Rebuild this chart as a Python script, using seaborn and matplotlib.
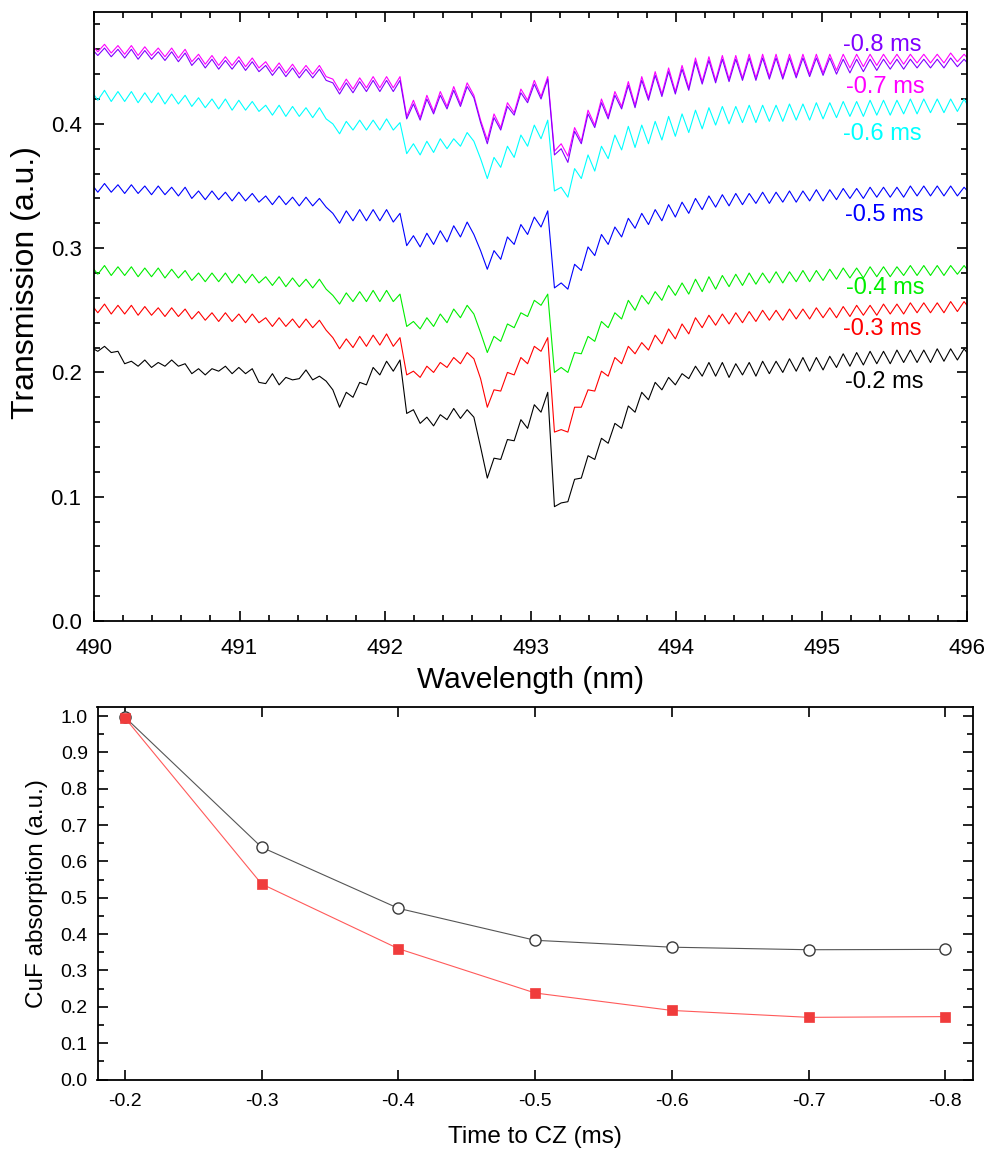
import numpy as np
import pandas as pd
import matplotlib
matplotlib.use("Agg")
import matplotlib.pyplot as plt
from matplotlib.ticker import MultipleLocator
import seaborn as sns

# ---------------- data ----------------
# wavelength sampling grid (nm): fringe peaks / troughs alternate
wavelength = np.round(489.98 + 0.046154 * np.arange(132), 4)

t_m08 = [.461, .455, .461, .454, .460, .453, .460, .452, .459, .452, .458, .451, .458, .450, .457, .447, .453, .445,
         .452, .444, .451, .444, .451, .443, .450, .442, .447, .439, .446, .438, .445, .437, .444, .437, .444, .435,
         .433, .424, .433, .425, .434, .426, .435, .426, .435, .426, .435,
         .404, .416, .403, .420, .408, .423, .412, .427, .414, .430, .421,
         .401, .384, .405, .395, .414, .407, .425, .417, .432, .420, .436,
         .375, .380, .369,
         .394, .384, .408, .397, .417, .404, .423, .412, .431, .413, .435, .419, .439, .422, .442, .424, .444, .427, .450, .432,
         .451, .433, .452, .434, .452, .435, .453, .435, .453, .436, .453, .436, .453, .437, .453, .438, .453, .439, .453, .440,
         .452, .441, .452, .442, .452, .443, .452, .444, .452, .444, .452, .445, .452, .445, .452, .445, .453, .446, .452, .446]

t_m07 = [.464, .458, .464, .457, .463, .456, .463, .455, .462, .455, .461, .454, .461, .453, .460, .450, .456, .448,
         .455, .447, .454, .447, .454, .446, .453, .445, .450, .442, .449, .441, .448, .440, .447, .440, .447, .438,
         .436, .427, .436, .428, .437, .429, .438, .429, .438, .429, .438,
         .406, .419, .405, .423, .410, .426, .414, .430, .416, .433, .423,
         .403, .387, .408, .397, .417, .409, .428, .419, .435, .422, .438,
         .378, .384, .374,
         .397, .386, .411, .399, .420, .406, .426, .414, .434, .415, .438, .421, .442, .424, .445, .426, .447, .429, .453, .434,
         .454, .435, .455, .436, .455, .437, .456, .437, .456, .438, .456, .438, .456, .439, .456, .440, .456, .441, .456, .443,
         .456, .445, .456, .446, .456, .447, .456, .448, .456, .448, .456, .449, .456, .449, .456, .449, .457, .450, .456, .450]

t_m06 = [.427, .419, .427, .418, .426, .418, .426, .417, .425, .417, .425, .416, .424, .416, .423, .414, .421, .413,
         .420, .412, .420, .411, .419, .411, .418, .410, .415, .407, .415, .406, .414, .406, .413, .405, .413, .404,
         .400, .392, .402, .395, .403, .395, .403, .395, .404, .395, .401,
         .376, .384, .375, .386, .377, .388, .380, .388, .382, .393, .386,
         .372, .356, .373, .365, .382, .373, .391, .382, .399, .388, .403,
         .346, .349, .341,
         .364, .356, .375, .362, .382, .372, .391, .379, .398, .381, .399, .384, .402, .387, .406, .390, .408, .393, .411, .396,
         .413, .399, .414, .400, .414, .401, .415, .401, .415, .402, .415, .402, .416, .403, .416, .403, .417, .404, .417, .405,
         .418, .406, .418, .406, .419, .407, .419, .407, .419, .408, .420, .408, .420, .409, .420, .409, .420, .410, .420, .410]

t_m05 = [.352, .345, .352, .345, .351, .344, .351, .344, .350, .343, .350, .343, .349, .342, .349, .340, .346, .339,
         .346, .339, .345, .338, .345, .338, .344, .337, .342, .335, .342, .335, .341, .334, .341, .334, .340, .333,
         .328, .320, .330, .322, .331, .322, .331, .322, .331, .321, .328,
         .302, .310, .301, .312, .303, .314, .305, .318, .309, .321, .311,
         .298, .283, .298, .291, .309, .303, .319, .311, .325, .317, .330,
         .268, .272, .267,
         .287, .282, .301, .294, .311, .303, .317, .309, .324, .316, .328, .319, .331, .322, .335, .325, .337, .328, .340, .331,
         .342, .333, .343, .334, .344, .335, .344, .336, .345, .336, .345, .337, .346, .337, .346, .338, .347, .338, .347, .339,
         .348, .340, .348, .340, .349, .341, .349, .341, .349, .341, .350, .342, .350, .342, .350, .342, .350, .342, .349, .343]

t_m04 = [.286, .279, .286, .278, .285, .278, .285, .277, .284, .277, .284, .276, .283, .276, .282, .274, .280, .273,
         .280, .273, .280, .272, .279, .272, .279, .272, .277, .270, .277, .269, .276, .269, .275, .268, .275, .267,
         .262, .255, .264, .257, .265, .257, .266, .257, .266, .257, .263,
         .237, .241, .235, .244, .237, .247, .240, .251, .244, .254, .247,
         .232, .216, .229, .225, .239, .236, .248, .245, .258, .254, .263,
         .200, .204, .200,
         .216, .215, .229, .225, .241, .236, .248, .243, .258, .250, .262, .255, .265, .258, .270, .262, .272, .263, .275, .265,
         .277, .267, .278, .269, .279, .270, .280, .271, .280, .272, .281, .272, .281, .273, .282, .273, .282, .274, .283, .275,
         .284, .276, .284, .276, .285, .277, .285, .277, .285, .278, .286, .278, .286, .278, .286, .278, .286, .279, .286, .279]

t_m03 = [.255, .248, .255, .247, .254, .247, .254, .246, .253, .246, .252, .245, .252, .245, .251, .243, .249, .242,
         .248, .241, .248, .241, .247, .240, .247, .240, .244, .237, .244, .237, .243, .236, .243, .236, .242, .234,
         .228, .219, .227, .220, .229, .221, .230, .222, .231, .221, .228,
         .198, .201, .196, .205, .200, .208, .204, .212, .207, .216, .211,
         .195, .172, .186, .185, .200, .198, .212, .207, .221, .217, .228,
         .152, .154, .152,
         .172, .172, .186, .185, .201, .197, .212, .207, .221, .215, .224, .218, .230, .223, .235, .227, .239, .231, .244, .236,
         .246, .238, .247, .239, .248, .240, .249, .241, .250, .242, .250, .242, .251, .243, .251, .243, .252, .244, .252, .244,
         .253, .245, .254, .246, .254, .246, .255, .247, .255, .247, .256, .248, .256, .248, .256, .248, .257, .249, .257, .250]

t_m02 = [.220, .217, .221, .216, .217, .207, .209, .205, .210, .204, .208, .205, .210, .205, .207, .199, .203, .198,
         .203, .201, .205, .199, .204, .199, .203, .192, .191, .199, .190, .196, .194, .195, .202, .194, .197, .193,
         .186, .172, .184, .180, .192, .190, .204, .198, .209, .201, .210,
         .167, .170, .159, .164, .157, .166, .162, .171, .163, .170, .164,
         .140, .115, .131, .130, .146, .145, .162, .155, .174, .168, .184,
         .092, .095, .096,
         .114, .115, .133, .130, .147, .143, .159, .155, .173, .168, .184, .178, .192, .186, .196, .190, .199, .195, .205, .197,
         .208, .197, .208, .196, .207, .198, .208, .197, .209, .199, .209, .200, .211, .201, .212, .201, .212, .202, .213, .204,
         .215, .205, .216, .206, .217, .207, .217, .207, .218, .208, .218, .208, .218, .208, .219, .209, .219, .210, .219, .212]

spectra = [t_m02, t_m03, t_m04, t_m05, t_m06, t_m07, t_m08]
spectrum_labels = ["-0.2 ms", "-0.3 ms", "-0.4 ms", "-0.5 ms", "-0.6 ms", "-0.7 ms", "-0.8 ms"]
spectrum_colors = ["#000000", "#ff0000", "#00ee00", "#0000ff", "#00ffff", "#ff00ff", "#8000ff"]
label_y = [0.1925, 0.2347, 0.2677, 0.3268, 0.3922, 0.4296, 0.4637]
label_x = [495.16, 495.15, 495.17, 495.16, 495.15, 495.17, 495.15]

time_to_cz = [-0.2, -0.3, -0.4, -0.5, -0.6, -0.7, -0.8]
abs_open = [0.997, 0.639, 0.471, 0.383, 0.364, 0.357, 0.358]
abs_red = [0.995, 0.538, 0.360, 0.238, 0.190, 0.171, 0.173]

# ---------------- style ----------------
sns.set_style("ticks")
plt.rcParams["font.family"] = ["Liberation Sans", "DejaVu Sans"]
plt.rcParams["axes.unicode_minus"] = False
plt.rcParams["axes.linewidth"] = 1.3
plt.rcParams["text.color"] = "black"
plt.rcParams["axes.labelcolor"] = "black"
plt.rcParams["xtick.color"] = "black"
plt.rcParams["ytick.color"] = "black"
plt.rcParams["xtick.labelcolor"] = "black"
plt.rcParams["ytick.labelcolor"] = "black"

fig = plt.figure(figsize=(9.9, 11.49), dpi=100)
ax1 = fig.add_axes([94 / 990, 1 - 621 / 1149, (967 - 94) / 990, (621 - 12) / 1149])
ax2 = fig.add_axes([97.5 / 990, 1 - 1079.5 / 1149, (972.7 - 97.5) / 990, (1079.5 - 707.3) / 1149])

for ax in (ax1, ax2):
    for s in ax.spines.values():
        s.set_color("black")
        s.set_linewidth(1.3)
    ax.tick_params(which="both", direction="in", top=True, right=True, color="black",
                   labelcolor="black", width=1.2)
    ax.tick_params(which="major", length=7)
    ax.tick_params(which="minor", length=4)

# ---- top: spectra ----
for vals, col, lab, lx, ly in zip(spectra, spectrum_colors, spectrum_labels, label_x, label_y):
    df = pd.DataFrame({"wl": wavelength, "T": vals})
    sns.lineplot(data=df, x="wl", y="T", ax=ax1, color=col, linewidth=0.8, estimator=None, sort=False)
    ax1.text(lx, ly, lab, color=col, fontsize=17, ha="left", va="center")

ax1.set_xlim(490, 496)
ax1.set_ylim(0, 0.49)
ax1.xaxis.set_minor_locator(MultipleLocator(0.2))
ax1.yaxis.set_minor_locator(MultipleLocator(0.02))
ax1.set_xticks([490, 491, 492, 493, 494, 495, 496])
ax1.set_xticklabels(["490", "491", "492", "493", "494", "495", "496"])
ax1.set_yticks([0.0, 0.1, 0.2, 0.3, 0.4])
ax1.set_yticklabels(["0.0", "0.1", "0.2", "0.3", "0.4"])
ax1.tick_params(axis="x", labelsize=16, pad=12)
ax1.tick_params(axis="y", labelsize=16, pad=9)
ax1.set_xlabel("Wavelength (nm)", fontsize=21.5, labelpad=5, color="black")
ax1.set_ylabel("Transmission (a.u.)", fontsize=23, color="black")
ax1.yaxis.set_label_coords(-0.061, 0.555)

# ---- bottom: absorption vs time ----
df2 = pd.DataFrame({"t": time_to_cz, "open": abs_open, "red": abs_red})
sns.lineplot(data=df2, x="t", y="open", ax=ax2, color="#555555", linewidth=0.8, estimator=None, sort=False,
             marker="o", markersize=8, markerfacecolor="white", markeredgecolor="#3a3a3a", markeredgewidth=1.0)
sns.lineplot(data=df2, x="t", y="red", ax=ax2, color="#ff5a5a", linewidth=0.8, estimator=None, sort=False,
             marker="s", markersize=7.5, markerfacecolor="#f03c3c", markeredgecolor="#f03c3c", markeredgewidth=0.5)

ax2.set_xlim(-0.18, -0.82)
ax2.set_ylim(0, 1.024)
ax2.set_xticks(time_to_cz)
ax2.set_xticklabels(["-0.2", "-0.3", "-0.4", "-0.5", "-0.6", "-0.7", "-0.8"])
ax2.yaxis.set_minor_locator(MultipleLocator(0.05))
ax2.set_yticks([round(0.1 * i, 1) for i in range(11)])
ax2.set_yticklabels([f"{0.1 * i:.1f}" for i in range(11)])
ax2.tick_params(axis="x", labelsize=14, pad=10)
ax2.tick_params(axis="y", labelsize=14, pad=7)
ax2.set_xlabel("Time to CZ (ms)", fontsize=17.5, labelpad=11, color="black")
ax2.set_ylabel("CuF absorption (a.u.)", fontsize=17.5, labelpad=9, color="black")

fig.savefig("out.png", dpi=100)
